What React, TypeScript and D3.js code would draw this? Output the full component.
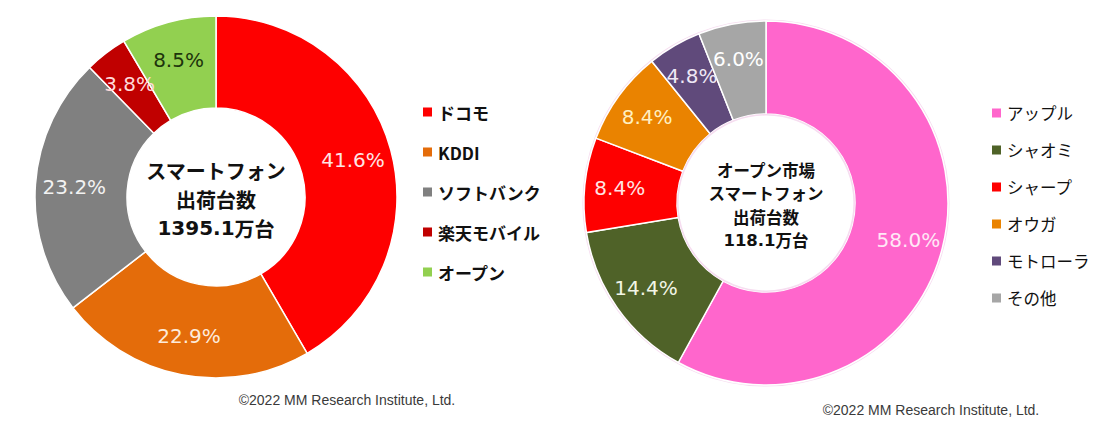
import React from "react";
import * as d3 from "d3";

// Left chart: all smartphone shipments by carrier
const leftCategories = ["ドコモ", "KDDI", "ソフトバンク", "楽天モバイル", "オープン"];
const leftValues = [41.6, 22.9, 23.2, 3.8, 8.5];
const leftColors = ["#FE0000", "#E46C0A", "#808080", "#C00000", "#92D050"];
const leftLabelColors = ["#FFE4E4", "#FDEBDB", "#F2F2F2", "#FFD9D9", "#1E340C"];
const leftCenterLines = ["スマートフォン", "出荷台数", "1395.1万台"];

// Right chart: open market shipments by maker
const rightCategories = ["アップル", "シャオミ", "シャープ", "オウガ", "モトローラ", "その他"];
const rightValues = [58.0, 14.4, 8.4, 8.4, 4.8, 6.0];
const rightColors = ["#FF66CC", "#4F6228", "#FE0000", "#EA8300", "#604A7B", "#A6A6A6"];
const rightLabelColors = ["#FFE8F6", "#F2F5E6", "#FFE4E4", "#FFF0C0", "#EEE8F5", "#FFFFFF"];
const rightCenterLines = ["オープン市場", "スマートフォン", "出荷台数", "118.1万台"];

const copyright = "©2022 MM Research Institute, Ltd.";

type DonutProps = {
  cx: number;
  cy: number;
  outer: number;
  inner: number;
  labelR: number;
  values: number[];
  colors: string[];
  labelColors: string[];
  centerLines: string[];
  centerSize: number;
  centerGap: number;
  outline?: string;
};

// Split a line so that ASCII digits use a wider Latin face (as in the reference)
function splitRuns(t: string) {
  const runs: { s: string; latin: boolean }[] = [];
  for (const ch of t) {
    const latin = /[0-9.]/.test(ch);
    const last = runs[runs.length - 1];
    if (last && last.latin === latin) last.s += ch;
    else runs.push({ s: ch, latin });
  }
  return runs;
}

function Donut(p: DonutProps) {
  const pie = d3
    .pie<number>()
    .sort(null)
    .value((d) => d)
    .startAngle(0)
    .endAngle(2 * Math.PI);
  const arcs = pie(p.values);
  const arc = d3.arc<d3.PieArcDatum<number>>().innerRadius(p.inner).outerRadius(p.outer);
  const labelArc = d3.arc<d3.PieArcDatum<number>>().innerRadius(p.labelR).outerRadius(p.labelR);
  const n = p.centerLines.length;
  return (
    <g transform={`translate(${p.cx},${p.cy})`}>
      {p.outline ? <circle r={p.outer + 0.8} fill="none" stroke={p.outline} strokeWidth={1.6} /> : null}
      {arcs.map((a, i) => (
        <path key={i} d={arc(a) || ""} fill={p.colors[i]} stroke="#FFFFFF" strokeWidth={1.5} />
      ))}
      {p.outline ? <circle r={p.inner - 0.8} fill="none" stroke={p.outline} strokeWidth={1.6} /> : null}
      {arcs.map((a, i) => {
        const [x, y] = labelArc.centroid(a);
        return (
          <text
            key={"l" + i}
            x={x}
            y={y}
            textAnchor="middle"
            dominantBaseline="central"
            fontFamily="'DejaVu Sans', Verdana, sans-serif"
            fontSize={20}
            fill={p.labelColors[i]}
          >
            {d3.format(".1f")(p.values[i])}%
          </text>
        );
      })}
      {p.centerLines.map((t, i) => (
        <text
          key={"c" + i}
          x={0}
          y={(i - (n - 1) / 2) * p.centerGap + 2}
          textAnchor="middle"
          dominantBaseline="central"
          fontFamily="'Noto Sans CJK JP', sans-serif"
          fontWeight="bold"
          fontSize={p.centerSize}
          fill="#111111"
        >
          {splitRuns(t).map((r, k) => (
            <tspan key={k} fontFamily={r.latin ? "'DejaVu Sans', Verdana, sans-serif" : "'Noto Sans CJK JP', sans-serif"}>
              {r.s}
            </tspan>
          ))}
        </text>
      ))}
    </g>
  );
}

type LegendProps = {
  x: number;
  y: number;
  gap: number;
  categories: string[];
  colors: string[];
  bold: boolean;
  size: number;
};

function Legend(p: LegendProps) {
  const ys = d3
    .scalePoint<string>()
    .domain(p.categories)
    .range([p.y, p.y + p.gap * (p.categories.length - 1)]);
  return (
    <g>
      {p.categories.map((c, i) => (
        <g key={c} transform={`translate(${p.x},${ys(c)})`}>
          <rect x={0} y={-4.5} width={9} height={9} fill={p.colors[i]} />
          <text
            x={15}
            y={0}
            dominantBaseline="central"
            fontFamily="'Noto Sans CJK JP', sans-serif"
            fontWeight={p.bold ? "bold" : "normal"}
            fontSize={p.size}
            fill="#111111"
          >
            {c}
          </text>
        </g>
      ))}
    </g>
  );
}

export default function App() {
  return (
    <svg
      width={1112}
      height={436}
      style={{ position: "fixed", left: 0, top: 0, background: "#FFFFFF", display: "block" }}
    >
      <rect width={1112} height={436} fill="#FFFFFF" />
      <Donut
        cx={216}
        cy={197}
        outer={181}
        inner={89}
        labelR={142}
        values={leftValues}
        colors={leftColors}
        labelColors={leftLabelColors}
        centerLines={leftCenterLines}
        centerSize={20}
        centerGap={29}
      />
      <Donut
        cx={766}
        cy={203}
        outer={182}
        inner={89}
        labelR={147}
        values={rightValues}
        colors={rightColors}
        labelColors={rightLabelColors}
        centerLines={rightCenterLines}
        centerSize={16.5}
        centerGap={23.5}
        outline="#F6DDF0"
      />
      <Legend x={423} y={112} gap={40} categories={leftCategories} colors={leftColors} bold={true} size={17} />
      <Legend x={992} y={113} gap={37} categories={rightCategories} colors={rightColors} bold={false} size={16.5} />
      <text
        x={347}
        y={400}
        textAnchor="middle"
        dominantBaseline="central"
        fontFamily="'Liberation Sans', Arial, sans-serif"
        fontSize={14}
        fill="#3A3A3A"
      >
        {copyright}
      </text>
      <text
        x={931}
        y={410}
        textAnchor="middle"
        dominantBaseline="central"
        fontFamily="'Liberation Sans', Arial, sans-serif"
        fontSize={14}
        fill="#3A3A3A"
      >
        {copyright}
      </text>
    </svg>
  );
}
